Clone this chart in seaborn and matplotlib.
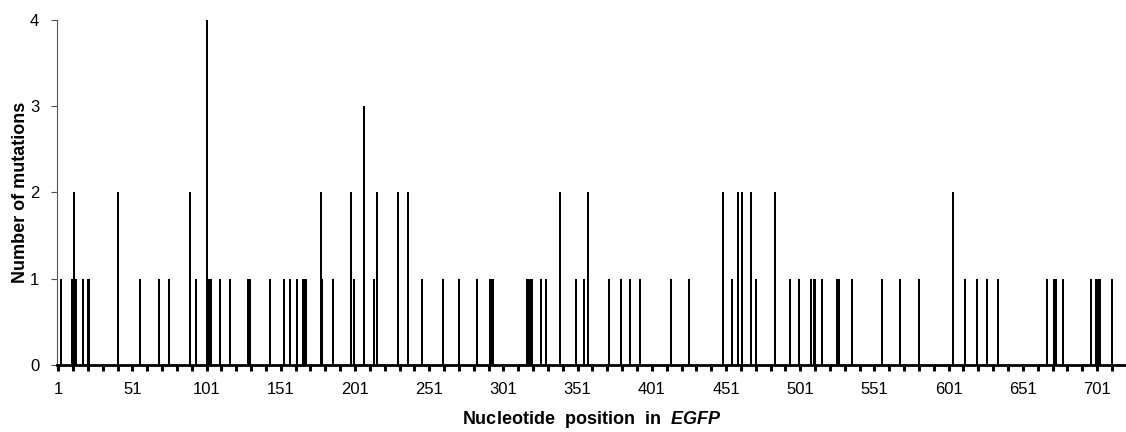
import numpy as np
import pandas as pd
import seaborn as sns
from matplotlib import pyplot as plt

# positions in EGFP with at least one mutation, and the number of mutations there
positions = [3, 10, 11, 12, 13, 18, 21, 22, 41, 56, 69, 76, 90, 94, 101, 102, 103, 104,
             110, 117, 129, 130, 144, 153, 157, 162, 166, 167, 168, 178, 179, 186, 198, 200,
             207, 214, 216, 230, 237, 246, 260, 271, 283, 292, 293, 294, 317, 318, 319, 320,
             326, 330, 339, 350, 355, 358, 372, 380, 386, 393, 414, 426, 449, 455, 459, 462,
             468, 471, 484, 494, 500, 508, 510, 511, 516, 526, 527, 536, 556, 568, 581, 604,
             612, 620, 627, 634, 667, 672, 673, 678, 697, 700, 701, 702, 703, 711]
mutations = [1, 1, 1, 2, 1, 1, 1, 1, 2, 1, 1, 1, 2, 1, 4, 1, 1, 1,
             1, 1, 1, 1, 1, 1, 1, 1, 1, 1, 1, 2, 1, 1, 2, 1,
             3, 1, 2, 2, 2, 1, 1, 1, 1, 1, 1, 1, 1, 1, 1, 1,
             1, 1, 2, 1, 1, 2, 1, 1, 1, 1, 1, 1, 2, 1, 2, 2,
             2, 1, 2, 1, 1, 1, 1, 1, 1, 1, 1, 1, 1, 1, 1, 2,
             1, 1, 1, 1, 1, 1, 1, 1, 1, 1, 1, 1, 1, 1]
x_ticks = list(range(1, 721, 10))
x_tick_labels = ['1', '51', '101', '151', '201', '251', '301', '351',
                 '401', '451', '501', '551', '601', '651', '701']
y_ticks = [0, 1, 2, 3, 4]

df = pd.DataFrame({'position': positions, 'mutations': mutations})

plt.rcParams['font.family'] = ['Liberation Sans', 'DejaVu Sans']
plt.rcParams['mathtext.fontset'] = 'custom'
plt.rcParams['mathtext.bf'] = 'Liberation Sans:bold:italic'

fig = plt.figure(figsize=(11.26, 4.32), dpi=100)
ax = fig.add_axes([0.051, 0.155, 0.949, 0.799])

sns.barplot(data=df, x='position', y='mutations', native_scale=True, width=1.35,
            color='black', saturation=1, linewidth=0, errorbar=None, ax=ax)

ax.set_xlim(0.5, 720.5)
ax.set_ylim(0, 4)

# x axis: tick every 10 positions, label every 50
ax.set_xticks(x_ticks)
labels = [''] * len(x_ticks)
for i in range(0, len(x_ticks), 5):
    labels[i] = x_tick_labels[i // 5]
ax.set_xticklabels(labels)
ax.tick_params(axis='x', length=4, width=2.2, pad=8, labelsize=12, color='black')

ax.set_yticks(y_ticks)
ax.set_yticklabels([str(v) for v in y_ticks])
ax.tick_params(axis='y', length=4, width=0.8, pad=9, labelsize=12, color='#555555')

for side in ['top', 'right']:
    ax.spines[side].set_visible(False)
ax.spines['bottom'].set_linewidth(2.0)
ax.spines['bottom'].set_color('black')
ax.spines['bottom'].set_zorder(5)
ax.spines['left'].set_linewidth(0.8)
ax.spines['left'].set_color('#555555')

ax.set_xlabel(r'Nucleotide  position  in  $\mathbf{EGFP}$', fontsize=13, fontweight='bold')
ax.set_ylabel('Number of mutations', fontsize=13, fontweight='bold')
ax.xaxis.set_label_coords(0.5, -0.128)
ax.yaxis.set_label_coords(-0.027, 0.5)

fig.savefig('out.png', dpi=100)
